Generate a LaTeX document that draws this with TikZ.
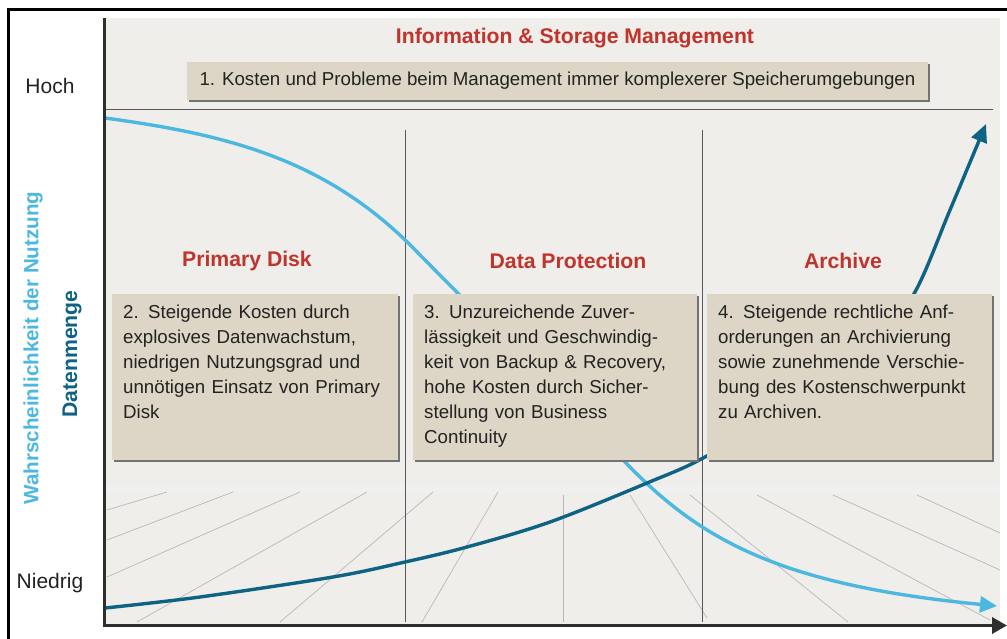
\documentclass[tikz,border=0pt]{standalone}
\usepackage{fontspec}
\setmainfont{Liberation Sans}
\usetikzlibrary{arrows.meta,shadows}

\definecolor{boxfill}{RGB}{221,214,198}
\definecolor{titlered}{RGB}{192,52,44}
\definecolor{usageblue}{RGB}{76,184,226}
\definecolor{volumeteal}{RGB}{14,98,132}
\definecolor{roomgrey}{RGB}{239,238,235}
\definecolor{textgrey}{RGB}{34,34,34}

\tikzset{
  boxbase/.style={fill=boxfill, text=textgrey,
    drop shadow={shadow xshift=1.6pt, shadow yshift=-1.6pt, fill=black!55, opacity=1}},
  infobox/.style={boxbase, anchor=north west, align=left, text width=264pt,
    inner xsep=11pt, inner ysep=10pt, text height=14pt, text depth=132pt,
    font=\fontsize{18.7}{25}\selectfont},
  topbox/.style={boxbase, minimum width=741pt, minimum height=38pt,
    font=\fontsize{18.7}{22}\selectfont},
  heading/.style={text=titlered, font=\bfseries\fontsize{21.2}{24}\selectfont},
  level/.style={text=textgrey, font=\fontsize{21}{24}\selectfont},
  axislabel/.style={rotate=90, font=\bfseries\fontsize{20.6}{24}\selectfont},
  divider/.style={draw=black!65, line width=0.8pt},
  floorline/.style={draw=black!28, line width=0.7pt},
  axisline/.style={draw=black!82, line width=3.5pt},
}

\begin{document}
\begin{tikzpicture}[x=1pt, y=-1pt]
  \useasboundingbox (0,0) rectangle (1007,639);

  % room in the background
  \fill[roomgrey] (105,18) rectangle (1000,625);
  \fill[black!6] (105,486) rectangle (1000,494);
  \foreach \xa/\ya/\xb/\yb in {167/492/107/510, 233/492/107/540, 300/492/107/577,
      367/492/137/622, 433/492/280/622, 498/492/422/622, 563/495/563/622,
      630/495/707/618, 690/495/848/622, 757/495/990/620, 833/495/1000/570,
      917/495/1000/533}
    \draw[floorline] (\xa,\ya) -- (\xb,\yb);

  % outer frame
  \draw[line width=3pt] (1007,9.5) -- (8.5,9.5) -- (8.5,639);

  % dividers
  \draw[divider] (105,109) -- (993,109);
  \draw[divider] (405,130) -- (405,622);
  \draw[divider] (702,130) -- (702,622);

  % curves
  \coordinate (usagestart) at (105,118);
  \coordinate (usageend) at (997,606);
  \draw[usageblue, line width=3.4pt, -{Triangle[length=17pt,width=16pt]}]
    (usagestart) .. controls (230,135) and (330,160) .. (420,255)
    -- (625,462) .. controls (700,540) and (780,585) .. (usageend);
  \draw[volumeteal, line width=3.4pt, -{Triangle[length=18pt,width=16pt]}]
    plot[smooth, tension=0.55] coordinates {(105,608) (200,597) (333,577) (405,562)
      (467,547) (550,522) (647,483) (705,457) (800,400) (875,345) (915,292)
      (950,210) (986,124)};

  % title and first problem
  \node[heading] (title) at (575,38) {Information \& Storage Management};
  \node[topbox] (mgmt) at (557.5,81)
    {1. Kosten und Probleme beim Management immer komplexerer Speicherumgebungen};

  % columns
  \node[heading] (disklabel) at (247,261) {Primary Disk};
  \node[heading] (protlabel) at (568,261) {Data Protection};
  \node[heading] (archlabel) at (843,261) {Archive};

  \node[infobox] (disk) at (112,294)
    {2. Steigende Kosten durch\\explosives Datenwachstum,\\niedrigen Nutzungsgrad und\\unnötigen Einsatz von Primary\\Disk};
  \node[infobox, text width=262pt] (prot) at (413,294)
    {3. Unzureichende Zuver-\\lässigkeit und Geschwindig-\\keit von Backup \& Recovery,\\hohe Kosten durch Sicher-\\stellung von Business\\Continuity};
  \node[infobox, text width=263pt] (arch) at (707,294)
    {4. Steigende rechtliche Anf-\\orderungen an Archivierung\\sowie zunehmende Verschie-\\bung des Kostenschwerpunkt\\zu Archiven.};

  % axes
  \coordinate (ytop) at (104.5,18);
  \coordinate (origin) at (104.5,625.5);
  \coordinate (xend) at (1007,625.5);
  \draw[axisline, -{Triangle[length=15pt,width=16pt]}] (ytop) -- (origin) -- (xend);

  \node[level] (hoch) at (50,86) {Hoch};
  \node[level] (niedrig) at (50,583) {Niedrig};
  \node[axislabel, text=usageblue] (usage) at (33,348) {Wahrscheinlichkeit der Nutzung};
  \node[axislabel, text=volumeteal, font=\bfseries\fontsize{21.2}{24}\selectfont] (volume) at (72,354) {Datenmenge};
\end{tikzpicture}
\end{document}
